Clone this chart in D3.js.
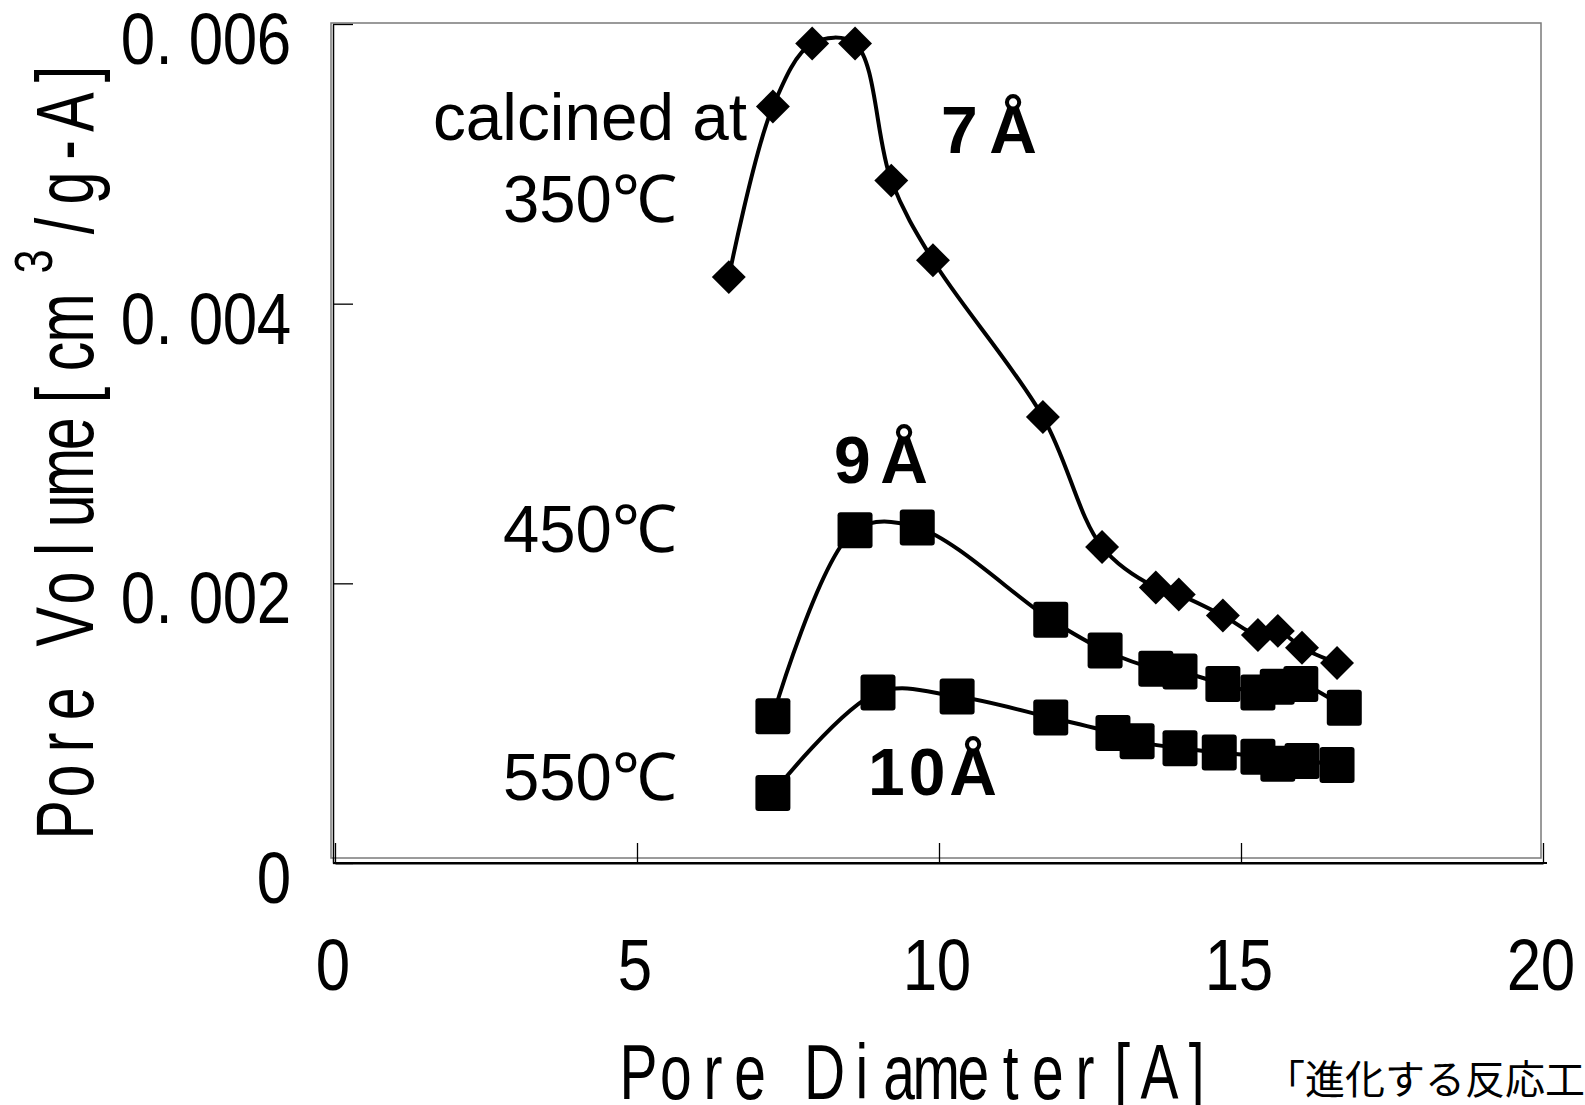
<!DOCTYPE html>
<html><head><meta charset="utf-8">
<script src="https://cdn.jsdelivr.net/npm/d3@7"></script>
<style>html,body{margin:0;padding:0;background:#fff;overflow:hidden}</style>
</head><body>
<svg id="chart" width="1585" height="1105" xmlns="http://www.w3.org/2000/svg"></svg>
<script>
// ---- data ----
const xTickValues = [0, 5, 10, 15, 20];
const xTickLabels = ["0", "5", "10", "15", "20"];
const yTickValues = [0, 0.002, 0.004, 0.006];
const yTickLabels = ["0", "0.002", "0.004", "0.006"];

const diam350 = [6.52, 7.25, 7.90, 8.61, 9.21, 9.90, 11.72, 12.70, 13.59, 13.97, 14.70, 15.28, 15.61, 16.01, 16.59];
const vol350  = [0.00419, 0.00541, 0.00586, 0.00586, 0.00488, 0.00431, 0.00319, 0.00226, 0.00197, 0.00192, 0.00177, 0.00163, 0.00166, 0.00154, 0.00143];

const diam450 = [7.25, 8.61, 9.64, 11.85, 12.75, 13.59, 13.99, 14.70, 15.28, 15.60, 15.99, 16.71];
const vol450  = [0.00105, 0.00238, 0.00240, 0.00174, 0.00152, 0.00139, 0.00137, 0.00128, 0.00122, 0.00126, 0.00128, 0.00111];

const diam550 = [7.25, 8.99, 10.30, 11.85, 12.88, 13.28, 13.99, 14.64, 15.28, 15.61, 16.01, 16.59];
const vol550  = [0.00050, 0.00122, 0.00119, 0.00104, 0.00093, 0.00087, 0.00082, 0.00079, 0.00076, 0.00071, 0.00073, 0.00070];

const seriesNames = ["350℃", "450℃", "550℃"];
const peakLabels = ["7Å", "9Å", "10Å"];
const calcinedText = "calcined at";
const xTitle = "Pore Diameter[A]";
const yTitleParts = ["Pore Volume[cm", "3", "/g-A]"];
const sourceText = "「進化する反応工";

// ---- drawing ----
const svg = d3.select("#chart");
const x = d3.scaleLinear().domain([0, 20]).range([335, 1543]);
const y = d3.scaleLinear().domain([0, 0.006]).range([863, 24]);
const sans = "'Liberation Sans', Arial, sans-serif";

// half-width "gothic" style text: every glyph centred in a fixed cell, horizontally condensed
function cellText(parent, str, x0, y0, cell, fontSize, sx) {
  const chars = Array.from(str);
  return parent.append("text")
    .attr("transform", `scale(${sx},1)`)
    .attr("x", chars.map((c, i) => ((x0 + (i + 0.5) * cell + (c === "." ? -8 : 0)) / sx).toFixed(2)).join(" "))
    .attr("y", y0)
    .attr("text-anchor", "middle")
    .attr("font-family", sans).attr("font-size", fontSize)
    .text(str);
}

// plot frame
svg.append("rect").attr("x", 331).attr("y", 23).attr("width", 1210).attr("height", 835)
  .attr("fill", "none").attr("stroke", "#7a7a7a").attr("stroke-width", 1.5);

// axes
const yAxis = d3.axisLeft(y).tickValues(yTickValues).tickSize(-20).tickSizeOuter(0).tickFormat("");
const gy = svg.append("g").attr("transform", "translate(333,0)").call(yAxis);
gy.select(".domain").attr("stroke", "#000").attr("stroke-width", 1.5);
gy.selectAll(".tick line").attr("stroke", "#000").attr("stroke-width", 1.3);

const xAxis = d3.axisBottom(x).tickValues(xTickValues).tickSize(-20).tickSizeOuter(0).tickFormat("");
const gx = svg.append("g").attr("transform", "translate(0,863)").call(xAxis);
gx.select(".domain").attr("stroke", "#000").attr("stroke-width", 2);
gx.selectAll(".tick line").attr("stroke", "#000").attr("stroke-width", 1.3);
svg.append("line").attr("x1", 333).attr("x2", 1547).attr("y1", 863).attr("y2", 863)
  .attr("stroke", "#000").attr("stroke-width", 2);

const pitch = 34;
const tickFont = 72;
const tickSx = 0.86;

// y tick labels (right aligned)
yTickValues.forEach((v, i) => {
  const lab = yTickLabels[i];
  cellText(svg, lab, 291 - lab.length * pitch, y(v) + 40, pitch, tickFont, tickSx);
});
// x tick labels (centred on ticks)
xTickValues.forEach((v, i) => {
  const lab = xTickLabels[i];
  cellText(svg, lab, x(v) - 2 - lab.length * pitch / 2, 990, pitch, tickFont, tickSx);
});

// x title
cellText(svg, xTitle, 620, 1099, 37.2, 78, 0.73);

// y title (rotated)
const gt = svg.append("g").attr("transform", "translate(93,839) rotate(-90)");
cellText(gt, yTitleParts[0], 0, 0, 38.6, 81, 0.73);
cellText(gt, yTitleParts[1], 566, -41, 23, 54, 0.8);
cellText(gt, yTitleParts[2], 594, 0, 38, 81, 0.73);

// series
const series = [
  {xs: diam350, ys: vol350, marker: "diamond"},
  {xs: diam450, ys: vol450, marker: "square"},
  {xs: diam550, ys: vol550, marker: "square"}
];
const line = d3.line().x(d => x(d[0])).y(d => y(d[1])).curve(d3.curveCatmullRom.alpha(0.5));
series.forEach(s => {
  const pts = s.xs.map((v, i) => [v, s.ys[i]]);
  svg.append("path").attr("d", line(pts)).attr("fill", "none")
    .attr("stroke", "#000").attr("stroke-width", 4).attr("stroke-linejoin", "round");
});
const diamond = d3.symbol().type(d3.symbolSquare).size(24 * 24);
series.forEach(s => {
  const pts = s.xs.map((v, i) => [v, s.ys[i]]);
  if (s.marker === "diamond") {
    svg.append("g").selectAll("path").data(pts).join("path")
      .attr("d", diamond)
      .attr("transform", d => `translate(${x(d[0])},${y(d[1])}) rotate(45)`)
      .attr("fill", "#000");
  } else {
    svg.append("g").selectAll("rect").data(pts).join("rect")
      .attr("x", d => x(d[0]) - 17.5).attr("y", d => y(d[1]) - 18)
      .attr("width", 35).attr("height", 36).attr("rx", 3)
      .attr("fill", "#000");
  }
});

// annotations
svg.append("text").attr("x", 433).attr("y", 140).attr("font-family", sans).attr("font-size", 66)
  .attr("textLength", 314).attr("lengthAdjust", "spacingAndGlyphs").text(calcinedText);
const seriesLabelY = [222, 552, 800];
seriesNames.forEach((t, i) => {
  svg.append("text").attr("x", 503).attr("y", seriesLabelY[i]).attr("font-family", sans).attr("font-size", 66)
    .attr("textLength", 174).attr("lengthAdjust", "spacingAndGlyphs").text(t);
});
const peakPos = [[941, 153, 96], [834, 483, 94], [868, 795, 129]];
peakLabels.forEach((t, i) => {
  svg.append("text").attr("x", peakPos[i][0]).attr("y", peakPos[i][1])
    .attr("font-family", sans).attr("font-weight", "bold").attr("font-size", 66)
    .attr("textLength", peakPos[i][2]).attr("lengthAdjust", "spacing").text(t);
});

// source note
svg.append("text").attr("x", 1585).attr("y", 1094).attr("text-anchor", "end")
  .attr("font-family", "'Noto Sans CJK JP', sans-serif").attr("font-size", 40)
  .text(sourceText);
</script>
</body></html>
